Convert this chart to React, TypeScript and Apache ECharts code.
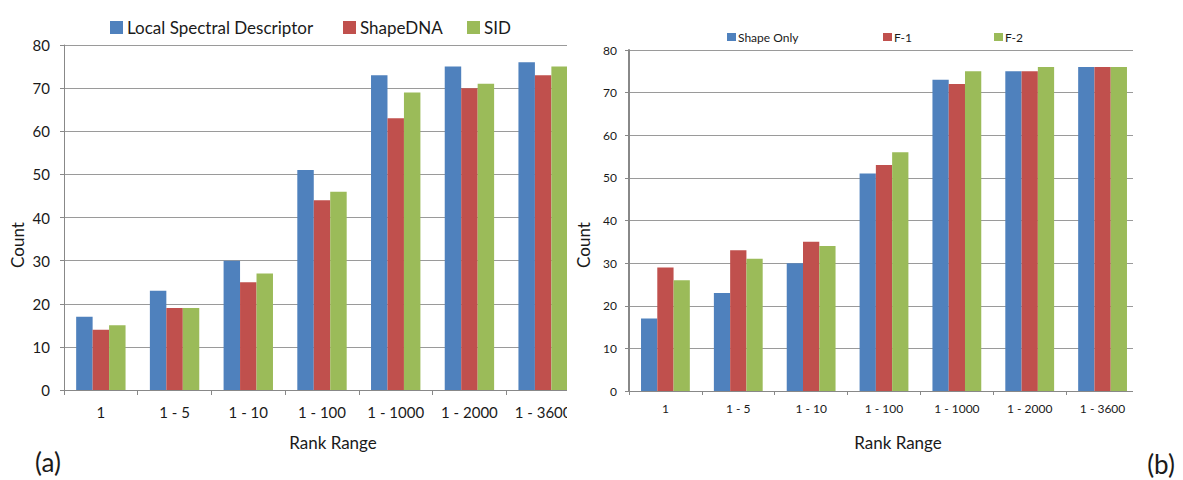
import React, { useEffect, useRef } from "react";
import * as echarts from "echarts";

const categories = ["1", "1 - 5", "1 - 10", "1 - 100", "1 - 1000", "1 - 2000", "1 - 3600"];

const aNames = ["Local Spectral Descriptor", "ShapeDNA", "SID"];
const aLocal = [17, 23, 30, 51, 73, 75, 76];
const aShapeDNA = [14, 19, 25, 44, 63, 70, 73];
const aSID = [15, 19, 27, 46, 69, 71, 75];

const bNames = ["Shape Only", "F-1", "F-2"];
const bShape = [17, 23, 30, 51, 73, 75, 76];
const bF1 = [29, 33, 35, 53, 72, 75, 76];
const bF2 = [26, 31, 34, 56, 75, 76, 76];

const colors = ["#4F81BD", "#C0504D", "#9BBB59"];
const FONT = "Lato";
const TXT = "#1a1a1a";

export default function App() {
  const ref = useRef<HTMLDivElement>(null);
  useEffect(() => {
    document.body.style.margin = "0";
    const chart = echarts.init(ref.current!, null, { renderer: "svg" });

    const yAxisBase = (grid: number, fs: number, margin: number, lw: number) => ({
      type: "value",
      gridIndex: grid,
      min: 0,
      max: 80,
      interval: 10,
      axisLine: { show: true, lineStyle: { color: "#888", width: lw } },
      axisTick: { show: true, length: 4, lineStyle: { color: "#888" } },
      axisLabel: { fontFamily: FONT, fontSize: fs, color: TXT, margin },
      splitLine: { show: true, lineStyle: { color: "#9a9a9a", width: 1 } },
    });
    const xAxisBase = (grid: number, fs: number, margin: number, tl: number) => ({
      type: "category",
      gridIndex: grid,
      data: categories,
      axisLine: { show: true, lineStyle: { color: "#888" } },
      axisTick: { show: true, length: tl, lineStyle: { color: "#888" } },
      axisLabel: { fontFamily: FONT, fontSize: fs, color: TXT, margin, interval: 0 },
      splitLine: { show: false },
    });

    const mkSeries = (name: string, data: number[], i: number, axis: number) => ({
      type: "bar",
      name,
      data,
      xAxisIndex: axis,
      yAxisIndex: axis,
      barGap: "0%",
      barCategoryGap: "33%",
      itemStyle: { color: colors[i] },
    });

    const legendA = [110, 343, 467].map((left, i) => ({
      data: [aNames[i]],
      left,
      top: 19,
      padding: 0,
      icon: "rect",
      itemWidth: 13,
      itemHeight: 13,
      selectedMode: false,
      textStyle: { fontFamily: FONT, fontSize: 17, color: TXT, padding: [0, 0, 0, -1] },
    }));
    const legendB = [727, 883, 994].map((left, i) => ({
      data: [bNames[i]],
      left,
      top: 31,
      padding: 0,
      icon: "rect",
      itemWidth: 9,
      itemHeight: 8,
      selectedMode: false,
      textStyle: { fontFamily: FONT, fontSize: 12, color: TXT, padding: [0, 0, 0, -3] },
    }));

    chart.setOption({
      animation: false,
      grid: [
        { left: 64, top: 45, width: 516, height: 345 },
        { left: 629, top: 50, width: 510, height: 341 },
      ],
      legend: [...legendA, ...legendB],
      xAxis: [xAxisBase(0, 15, 14, 5), xAxisBase(1, 12, 11, 4)],
      yAxis: [yAxisBase(0, 15, 14, 1), yAxisBase(1, 12, 12, 2)],
      series: [
        mkSeries(aNames[0], aLocal, 0, 0),
        mkSeries(aNames[1], aShapeDNA, 1, 0),
        mkSeries(aNames[2], aSID, 2, 0),
        mkSeries(bNames[0], bShape, 0, 1),
        mkSeries(bNames[1], bF1, 1, 1),
        mkSeries(bNames[2], bF2, 2, 1),
      ],
      graphic: [
        { type: "rect", z: 50, shape: { x: 567, y: 30, width: 14, height: 400 }, style: { fill: "#fff" } },
        { type: "rect", z: 50, shape: { x: 1133, y: 40, width: 14, height: 380 }, style: { fill: "#fff" } },
        {
          type: "text", z: 60, x: 17, y: 245, rotation: Math.PI / 2,
          style: { text: "Count", fontFamily: FONT, fontSize: 17, fill: TXT, align: "center", verticalAlign: "middle" },
        },
        {
          type: "text", z: 60, x: 583, y: 245, rotation: Math.PI / 2,
          style: { text: "Count", fontFamily: FONT, fontSize: 17, fill: TXT, align: "center", verticalAlign: "middle" },
        },
        {
          type: "text", z: 60, x: 333, y: 442,
          style: { text: "Rank Range", fontFamily: FONT, fontSize: 17, fill: TXT, align: "center", verticalAlign: "middle" },
        },
        {
          type: "text", z: 60, x: 898, y: 442,
          style: { text: "Rank Range", fontFamily: FONT, fontSize: 17, fill: TXT, align: "center", verticalAlign: "middle" },
        },
        {
          type: "text", z: 60, x: 35, y: 462,
          style: { text: "(a)", fontFamily: FONT, fontSize: 26, lineHeight: 26, fill: TXT, align: "left", verticalAlign: "middle" },
        },
        {
          type: "text", z: 60, x: 1161, y: 464,
          style: { text: "(b)", fontFamily: FONT, fontSize: 26, lineHeight: 26, fill: TXT, align: "center", verticalAlign: "middle" },
        },
      ],
    });
    return () => chart.dispose();
  }, []);
  return <div ref={ref} style={{ width: 1183, height: 480 }} />;
}
